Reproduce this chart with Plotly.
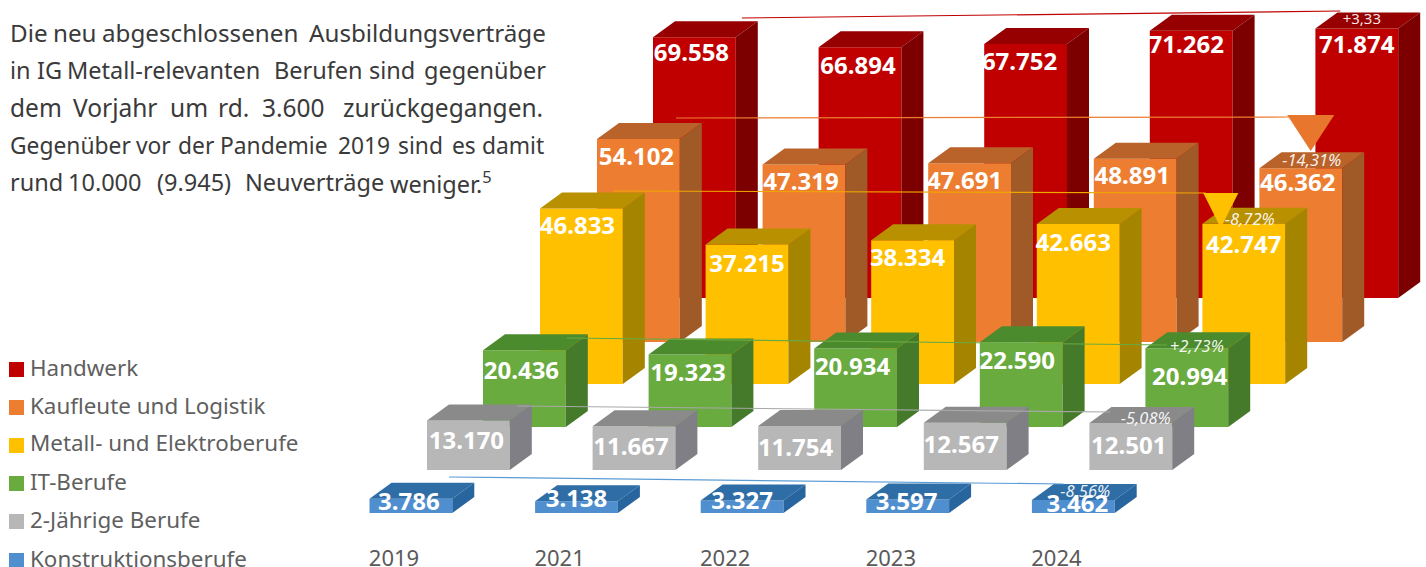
import plotly.graph_objects as go

YEARS = ["2019", "2021", "2022", "2023", "2024"]
HANDWERK = [69558, 66894, 67752, 71262, 71874]
KAUFLEUTE = [54102, 47319, 47691, 48891, 46362]
METALL = [46833, 37215, 38334, 42663, 42747]
IT = [20436, 19323, 20934, 22590, 20994]
ZWEIJ = [13170, 11667, 11754, 12567, 12501]
KONSTR = [3786, 3138, 3327, 3597, 3462]
NAMES = ["Handwerk", "Kaufleute und Logistik", "Metall- und Elektroberufe",
         "IT-Berufe", "2-Jährige Berufe", "Konstruktionsberufe"]
VALUES = [HANDWERK, KAUFLEUTE, METALL, IT, ZWEIJ, KONSTR]
CHANGE = ["+3,33", "-14,31%", "-8,72%", "+2,73%", "-5,08%", "-8,56%"]
# reference lines, in value units of each row: start level, end level
TREND_FROM = [74667, 59733, 51467, 23733, 17067, 9600]
TREND_TO = [76533, 60000, 50933, 21867, 15467, 7733]

# ---- styling / layout -------------------------------------------------
W, H = 1426, 573        # page clips at 567, so the year labels sit at the very bottom
COL_PX = 165.6          # column pitch
VAL_PX = 0.00375        # pixels per unit of value
BAR_W = 0.5
LEFT_PX = [653, 597, 540, 483, 427, 369.5]
BASE_PX = [298, 342, 384, 427, 470, 513]
DEPTH_X = 22 / COL_PX
DEPTH_Y = 16 / VAL_PX
TEXT_DROP = 2.5
FRONT = ["#c00000", "#ed7d31", "#ffc000", "#6aab40", "#b7b7b7", "#4f8fd0"]
TOP = ["#960000", "#b9622a", "#b99000", "#4c8a2e", "#8a8a8a", "#2f6da6"]
SIDE = ["#7d0000", "#a05a28", "#a58400", "#457a2b", "#7f7f85", "#28659e"]
TREND_COL = ["#c00000", "#ed7d31", "#f0a800", "#6aab40", "#a8a8a8", "#5b9bd5"]
TREND_X0 = [.537, .477, .44, .507, .543, .48]
TREND_X1 = [4.15, 4.187, 4.02, 4.13, 4.127, 4.19]
# label nudges in px relative to (bar centre, bar top)
NUDGE = [
    [(-3, 15.8), (-2, 17.9), (-6, 17.1), (-5, 14.2), (0, 16.5)],
    [(-2, 17), (-3, 17.4), (-5, 17.8), (-3, 17.3), (-3, 14)],
    [(-4, 17.6), (0, 18.6), (-5, 16.8), (-5, 18), (0, 20.3)],
    [(-3, 20.6), (-2, 17.5), (-3, 17.5), (-4, 18.7), (3, 28.7)],
    [(-2, 19.4), (-3, 19.8), (-4, 21.1), (-4, 22.1), (-2, 22)],
    [(-2, 2.2), (0, -3.2), (0, -.5), (-1, 1.5), (4, 3)],
]
CHANGE_NUDGE = [(5, -10.5), (11, -9), (6, -5.7), (10, -3), (15, -6), (12, -10)]
FONT = "Noto Sans"

fig = go.Figure()
layout = dict(
    width=W, height=H, margin=dict(l=0, r=0, t=0, b=0), autosize=False,
    paper_bgcolor="white", plot_bgcolor="white", showlegend=False, barmode="overlay",
    hovermode=False,
)


def fmt(v):
    return f"{v:,}".replace(",", ".")


for r, vals in enumerate(VALUES):
    sfx = "" if r == 0 else str(r + 1)
    xa, ya = "x" + sfx, "y" + sfx
    cols = list(range(len(vals)))
    fig.add_trace(go.Bar(x=[c + BAR_W / 2 for c in cols], y=vals, width=BAR_W, name=NAMES[r],
                         marker=dict(color=FRONT[r], line=dict(width=0)), xaxis=xa, yaxis=ya))
    top_x, top_y, side_x, side_y = [], [], [], []
    for c, v in zip(cols, vals):
        x0, x1 = c, c + BAR_W
        top_x += [x0, x0 + DEPTH_X, x1 + DEPTH_X, x1, x0, None]
        top_y += [v, v + DEPTH_Y, v + DEPTH_Y, v, v, None]
        side_x += [x1, x1 + DEPTH_X, x1 + DEPTH_X, x1, x1, None]
        side_y += [0, DEPTH_Y, v + DEPTH_Y, v, 0, None]
    for fx, fy, col in ((top_x, top_y, TOP[r]), (side_x, side_y, SIDE[r])):
        fig.add_trace(go.Scatter(x=fx, y=fy, mode="lines", fill="toself", fillcolor=col,
                                 line=dict(width=0, color=col), xaxis=xa, yaxis=ya))
    # reference line
    fig.add_trace(go.Scatter(x=[TREND_X0[r], TREND_X1[r]], y=[TREND_FROM[r], TREND_TO[r]], mode="lines",
                             line=dict(width=1.2, color=TREND_COL[r]), xaxis=xa, yaxis=ya))
    # triangles
    if r in (1, 2):
        tip_x, hw = (4.31, .142) if r == 1 else (4.111, .1057)
        tip_y = 50933 if r == 1 else 41600
        base_y = 60533 if r == 1 else 50933
        fig.add_trace(go.Scatter(x=[tip_x - hw, tip_x + hw, tip_x, tip_x - hw],
                                 y=[base_y, base_y, tip_y, base_y], mode="lines", fill="toself",
                                 fillcolor=FRONT[r] if r == 2 else "#e8762c",
                                 line=dict(width=0, color=FRONT[r]), xaxis=xa, yaxis=ya))
    # value labels
    fig.add_trace(go.Scatter(
        x=[c + BAR_W / 2 + NUDGE[r][c][0] / COL_PX for c in cols],
        y=[v - (NUDGE[r][c][1] + TEXT_DROP) / VAL_PX for c, v in zip(cols, vals)],
        text=[fmt(v) for v in vals], mode="text", textposition="middle center",
        textfont=dict(family=FONT, size=24, color="white", weight="bold"),
        cliponaxis=False, xaxis=xa, yaxis=ya))
    # change labels
    fig.add_trace(go.Scatter(
        x=[4 + BAR_W / 2 + CHANGE_NUDGE[r][0] / COL_PX],
        y=[vals[4] - (CHANGE_NUDGE[r][1] + TEXT_DROP) / VAL_PX],
        text=[CHANGE[r]], mode="text", textposition="middle center",
        textfont=dict(family=FONT, size=15 if r == 0 else 16.5, color="rgba(255,255,255,0.92)",
                      style="normal" if r == 0 else "italic"),
        cliponaxis=False, xaxis=xa, yaxis=ya))

    L, B = LEFT_PX[r], BASE_PX[r]
    xaxis = dict(range=[-L / COL_PX, (W - L) / COL_PX], visible=False, fixedrange=True)
    yaxis = dict(range=[(B - H) / VAL_PX, B / VAL_PX], visible=False, fixedrange=True)
    if r:
        xaxis.update(overlaying="x", anchor=ya)
        yaxis.update(overlaying="y", anchor=xa)
    if r == 5:
        xaxis.update(visible=True, showgrid=False, zeroline=False, showline=False, ticks="",
                     tickmode="array", tickvals=[c + 24.5 / COL_PX for c in cols], ticktext=YEARS,
                     ticklabelposition="inside", tickfont=dict(family=FONT, size=22, color="#5a5a5a"))
    layout["xaxis" + sfx] = xaxis
    layout["yaxis" + sfx] = yaxis

# ---- paragraph, word by word for the justified setting ----------------
PARA = [
    (42.7, 24.2, [("Die", 10), ("neu", 53), ("abgeschlossenen", 102), ("Ausbildungsverträge", 309)]),
    (80, 23.5, [("in", 10), ("IG", 37), ("Metall-relevanten", 67), ("Berufen", 274), ("sind", 369), ("gegenüber", 424)]),
    (117, 24.5, [("dem", 10), ("Vorjahr", 73), ("um", 170), ("rd.", 218), ("3.600", 262), ("zurückgegangen.", 343)]),
    (155, 22.8, [("Gegenüber", 10), ("vor", 136), ("der", 178), ("Pandemie", 220), ("2019", 338), ("sind", 398), ("es", 452), ("damit", 482)]),
    (192, 23.5, [("rund", 10), ("10.000", 68), ("(9.945)", 157), ("Neuverträge", 245), ("weniger.<sup>5</sup>", 390)]),
]
ann = []
for base, size, words in PARA:
    for w, x in words:
        ann.append(dict(text=w, x=x / W, y=1 - (base - 10) / H, xref="paper", yref="paper", xanchor="left",
                        yanchor="middle", showarrow=False, xshift=-2,
                        font=dict(family=FONT, size=size, color="#3a3a3a")))

shapes = []
SW_Y = [362, 400, 438, 476, 514, 553]
for name, col, y in zip(NAMES, FRONT, SW_Y):
    shapes.append(dict(type="rect", xref="paper", yref="paper", x0=9 / W, x1=24 / W,
                       y0=1 - (y + 15) / H, y1=1 - y / H, fillcolor=col, line=dict(width=0)))
    ann.append(dict(text=name, x=27.5 / W, y=1 - (y + 5) / H, xref="paper", yref="paper", xanchor="left",
                    yanchor="middle", showarrow=False, font=dict(family=FONT, size=22.4, color="#5f5f5f")))

layout["annotations"] = ann
layout["shapes"] = shapes
fig.update_layout(**layout)
fig.write_html("out.html", config={"displayModeBar": False},
               post_script="document.body.style.margin='0';document.body.style.overflow='hidden';")
